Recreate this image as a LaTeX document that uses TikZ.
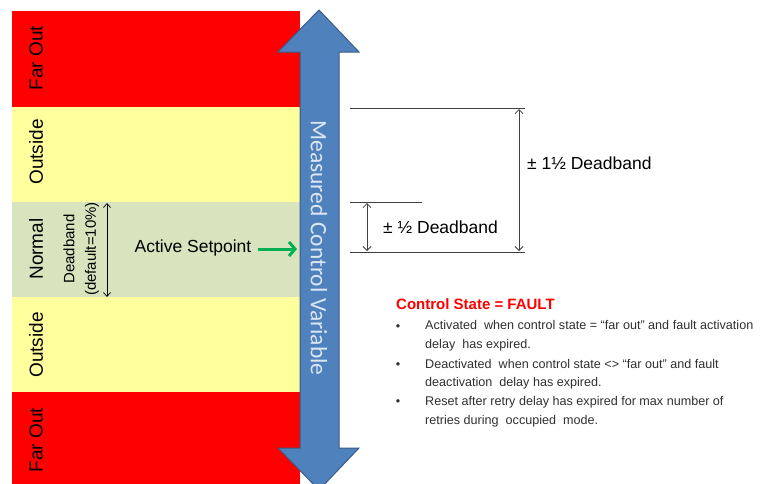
\documentclass[tikz,border=0pt]{standalone}
\usepackage{fontspec}
\setmainfont{Liberation Sans}
\newfontfamily\calfont{Carlito}
\usetikzlibrary{arrows.meta}
\definecolor{farred}{HTML}{FF0000}
\definecolor{outyel}{HTML}{FFFF9D}
\definecolor{normgreen}{HTML}{D7E4BD}
\definecolor{arrblue}{HTML}{4F81BD}
\definecolor{arrborder}{HTML}{385D8A}
\definecolor{arrtext}{HTML}{DCE6F2}
\definecolor{setgreen}{HTML}{00B050}
\definecolor{dimgray}{HTML}{404040}
\definecolor{bodygray}{HTML}{303030}
\tikzset{
  band/.style={draw=none, minimum width=288pt, inner sep=0pt, anchor=north west},
  bandlabel/.style={rotate=90, font=\fontsize{19}{22}\selectfont, inner sep=0pt},
  dimline/.style={draw=dimgray, line width=0.9pt},
  dimarrow/.style={draw=dimgray, line width=0.8pt, {Straight Barb[length=4pt,width=8pt]}-{Straight Barb[length=4pt,width=8pt]}},
  dimlabel/.style={font=\fontsize{17.5}{20}\selectfont, anchor=west, inner sep=0pt},
  bullettext/.style={font=\fontsize{12.6}{18.5}\selectfont, text=bodygray, align=left, anchor=base west, inner sep=0pt},
  bulletdot/.style={font=\fontsize{12.6}{18.5}\selectfont, text=bodygray, anchor=base, inner sep=0pt}
}
\begin{document}
\begin{tikzpicture}[x=1pt,y=-1pt]
\useasboundingbox (0,0) rectangle (761,483);
\clip (0,0) rectangle (761,483);
\fill[white] (0,0) rectangle (761,483);
% bands
\node[band, fill=farred, minimum height=96pt] (far1) at (12,11) {};
\node[band, fill=outyel, minimum height=95pt] (out1) at (12,107) {};
\node[band, fill=normgreen, minimum height=95pt] (norm) at (12,202) {};
\node[band, fill=outyel, minimum height=95pt] (out2) at (12,297) {};
\node[band, fill=farred, minimum height=95pt] (far2) at (12,392) {};
% band labels
\node[bandlabel] (lfar1) at (36,58) {Far Out};
\node[bandlabel] (lout1) at (36,152) {Outside};
\node[bandlabel] (lnorm) at (36,249) {Normal};
\node[bandlabel] (lout2) at (36,345) {Outside};
\node[bandlabel] (lfar2) at (36,440) {Far Out};
\node[rotate=90, font=\fontsize{15}{17}\selectfont, inner sep=0pt] (ldb) at (69,249) {Deadband};
\node[rotate=90, font=\fontsize{15}{17}\selectfont, inner sep=0pt] (ldef) at (92,249) {(default=10\%)};
\coordinate (dbtop) at (107,203);
\coordinate (dbbot) at (107,297);
\draw[line width=0.7pt, {Straight Barb[length=4pt,width=7pt]}-{Straight Barb[length=4pt,width=7pt]}] (dbtop) -- (dbbot);
% big double arrow
\draw[fill=arrblue, draw=arrborder, line width=1pt, line join=miter]
  (319,10) -- (359,52) -- (339,52) -- (339,448) -- (359,448) -- (319,490)
  -- (278,448) -- (300,448) -- (300,52) -- (278,52) -- cycle;
\node[rotate=-90, font=\calfont\fontsize{23.5}{26}\selectfont, text=arrtext, inner sep=0pt] (mcv) at (319,248) {Measured Control Variable};
% active setpoint
\node[font=\fontsize{17.5}{20}\selectfont, inner sep=0pt] (asp) at (193,248) {Active Setpoint};
\coordinate (aspend) at (297,249);
\draw[setgreen, line width=3pt, -{Straight Barb[length=6pt,width=14pt,line width=3pt]}] (asp.east |- aspend) ++(6,0) coordinate (aspstart) -- (aspend);
% deadband dimension lines
\coordinate (l1a) at (350,108); \coordinate (l1b) at (525,108);
\coordinate (l2a) at (350,202); \coordinate (l2b) at (422,202);
\coordinate (l3a) at (350,252); \coordinate (l3b) at (525,252);
\draw[dimline] (l1a) -- (l1b);
\draw[dimline] (l2a) -- (l2b);
\draw[dimline] (l3a) -- (l3b);
\coordinate (d1t) at (519,109); \coordinate (d1b) at (519,251);
\coordinate (d2t) at (367,203); \coordinate (d2b) at (367,251);
\draw[dimarrow] (d1t) -- (d1b);
\draw[dimarrow] (d2t) -- (d2b);
\node[dimlabel] (db15) at (527,163) {± 1½ Deadband};
\node[dimlabel] (db05) at (383,227) {± ½ Deadband};
% fault text
\node[font=\bfseries\fontsize{15}{18}\selectfont, text=farred, anchor=west, inner sep=0pt] (fault) at (396,304) {Control State = FAULT};
\node[bulletdot] (b1) at (398,330) {•};
\node[bullettext] (t1) at (425,348) {Activated\ \ when control state = “far out” and fault activation\\delay\ \ has expired.};
\node[bulletdot] (b2) at (398,368) {•};
\node[bullettext] (t2) at (425,386.5) {Deactivated\ \ when control state <> “far out” and fault\\deactivation\ \ delay has expired.};
\node[bulletdot] (b3) at (398,405) {•};
\node[bullettext] (t3) at (425,424) {Reset after retry delay has expired for max number of\\retries during\ \ occupied\ \ mode.};
\end{tikzpicture}
\end{document}
